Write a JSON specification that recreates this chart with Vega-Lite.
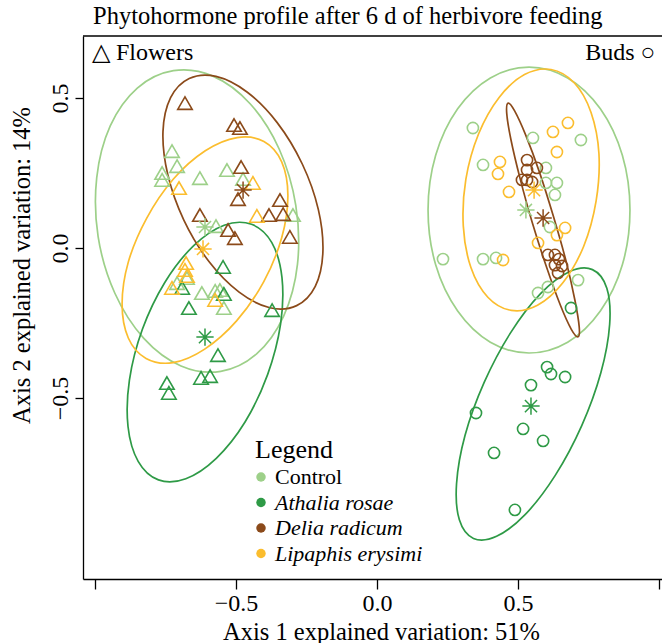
{
"$schema":"https://vega.github.io/schema/vega-lite/v6.json",
"width":579,"height":543,
"autosize":{"type":"none"},
"padding":{"left":83,"top":36,"right":0,"bottom":64},
"background":"white",
"config":{"view":{"stroke":null},"font":"Liberation Serif"},
"title":{"text":"Phytohormone profile after 6 d of herbivore feeding","anchor":"start","frame":"group","dx":10,"offset":6,"fontSize":24.5,"fontWeight":"normal","font":"Liberation Serif","color":"black"},
"datasets":{
"pts":[
{"g":"Control","o":"Flowers","x":-0.727,"y":0.323},{"g":"Control","o":"Flowers","x":-0.709,"y":0.273},{"g":"Control","o":"Flowers","x":-0.762,"y":0.250},{"g":"Control","o":"Flowers","x":-0.762,"y":0.227},{"g":"Control","o":"Flowers","x":-0.628,"y":0.233},{"g":"Control","o":"Flowers","x":-0.532,"y":0.260},{"g":"Control","o":"Flowers","x":-0.475,"y":0.230},{"g":"Control","o":"Flowers","x":-0.298,"y":0.110},{"g":"Control","o":"Flowers","x":-0.571,"y":0.073},{"g":"Control","o":"Flowers","x":-0.674,"y":-0.100},{"g":"Control","o":"Flowers","x":-0.709,"y":-0.117},{"g":"Control","o":"Flowers","x":-0.621,"y":-0.150},{"g":"Control","o":"Flowers","x":-0.574,"y":-0.143},{"g":"Control","o":"Flowers","x":-0.557,"y":-0.140},{"g":"Control","o":"Flowers","x":-0.543,"y":-0.200},
{"g":"Athalia rosae","o":"Flowers","x":-0.546,"y":-0.063},{"g":"Athalia rosae","o":"Flowers","x":-0.691,"y":-0.133},{"g":"Athalia rosae","o":"Flowers","x":-0.667,"y":-0.200},{"g":"Athalia rosae","o":"Flowers","x":-0.543,"y":-0.153},{"g":"Athalia rosae","o":"Flowers","x":-0.372,"y":-0.207},{"g":"Athalia rosae","o":"Flowers","x":-0.564,"y":-0.357},{"g":"Athalia rosae","o":"Flowers","x":-0.624,"y":-0.433},{"g":"Athalia rosae","o":"Flowers","x":-0.592,"y":-0.427},{"g":"Athalia rosae","o":"Flowers","x":-0.745,"y":-0.450},{"g":"Athalia rosae","o":"Flowers","x":-0.738,"y":-0.483},
{"g":"Delia radicum","o":"Flowers","x":-0.681,"y":0.483},{"g":"Delia radicum","o":"Flowers","x":-0.507,"y":0.410},{"g":"Delia radicum","o":"Flowers","x":-0.486,"y":0.400},{"g":"Delia radicum","o":"Flowers","x":-0.482,"y":0.270},{"g":"Delia radicum","o":"Flowers","x":-0.493,"y":0.163},{"g":"Delia radicum","o":"Flowers","x":-0.628,"y":0.110},{"g":"Delia radicum","o":"Flowers","x":-0.344,"y":0.160},{"g":"Delia radicum","o":"Flowers","x":-0.383,"y":0.110},{"g":"Delia radicum","o":"Flowers","x":-0.333,"y":0.113},{"g":"Delia radicum","o":"Flowers","x":-0.528,"y":0.060},{"g":"Delia radicum","o":"Flowers","x":-0.504,"y":0.033},{"g":"Delia radicum","o":"Flowers","x":-0.309,"y":0.037},
{"g":"Lipaphis erysimi","o":"Flowers","x":-0.440,"y":0.217},{"g":"Lipaphis erysimi","o":"Flowers","x":-0.702,"y":0.200},{"g":"Lipaphis erysimi","o":"Flowers","x":-0.426,"y":0.107},{"g":"Lipaphis erysimi","o":"Flowers","x":-0.677,"y":-0.050},{"g":"Lipaphis erysimi","o":"Flowers","x":-0.681,"y":-0.073},{"g":"Lipaphis erysimi","o":"Flowers","x":-0.674,"y":-0.093},{"g":"Lipaphis erysimi","o":"Flowers","x":-0.727,"y":-0.133},{"g":"Lipaphis erysimi","o":"Flowers","x":-0.574,"y":-0.173},
{"g":"Control","o":"Buds","x":0.340,"y":0.400},{"g":"Control","o":"Buds","x":0.553,"y":0.367},{"g":"Control","o":"Buds","x":0.723,"y":0.360},{"g":"Control","o":"Buds","x":0.376,"y":0.277},{"g":"Control","o":"Buds","x":0.599,"y":0.267},{"g":"Control","o":"Buds","x":0.599,"y":0.217},{"g":"Control","o":"Buds","x":0.638,"y":0.217},{"g":"Control","o":"Buds","x":0.631,"y":0.177},{"g":"Control","o":"Buds","x":0.613,"y":0.070},{"g":"Control","o":"Buds","x":0.234,"y":-0.037},{"g":"Control","o":"Buds","x":0.376,"y":-0.037},{"g":"Control","o":"Buds","x":0.422,"y":-0.033},{"g":"Control","o":"Buds","x":0.571,"y":-0.150},{"g":"Control","o":"Buds","x":0.606,"y":-0.130},{"g":"Control","o":"Buds","x":0.713,"y":-0.107},
{"g":"Athalia rosae","o":"Buds","x":0.688,"y":-0.200},{"g":"Athalia rosae","o":"Buds","x":0.603,"y":-0.397},{"g":"Athalia rosae","o":"Buds","x":0.617,"y":-0.420},{"g":"Athalia rosae","o":"Buds","x":0.667,"y":-0.430},{"g":"Athalia rosae","o":"Buds","x":0.546,"y":-0.457},{"g":"Athalia rosae","o":"Buds","x":0.351,"y":-0.550},{"g":"Athalia rosae","o":"Buds","x":0.518,"y":-0.603},{"g":"Athalia rosae","o":"Buds","x":0.589,"y":-0.643},{"g":"Athalia rosae","o":"Buds","x":0.415,"y":-0.683},{"g":"Athalia rosae","o":"Buds","x":0.489,"y":-0.873},
{"g":"Delia radicum","o":"Buds","x":0.532,"y":0.293},{"g":"Delia radicum","o":"Buds","x":0.532,"y":0.260},{"g":"Delia radicum","o":"Buds","x":0.567,"y":0.267},{"g":"Delia radicum","o":"Buds","x":0.514,"y":0.227},{"g":"Delia radicum","o":"Buds","x":0.532,"y":0.227},{"g":"Delia radicum","o":"Buds","x":0.550,"y":0.220},{"g":"Delia radicum","o":"Buds","x":0.606,"y":-0.023},{"g":"Delia radicum","o":"Buds","x":0.631,"y":-0.023},{"g":"Delia radicum","o":"Buds","x":0.645,"y":-0.037},{"g":"Delia radicum","o":"Buds","x":0.631,"y":-0.057},{"g":"Delia radicum","o":"Buds","x":0.656,"y":-0.060},{"g":"Delia radicum","o":"Buds","x":0.642,"y":-0.083},
{"g":"Lipaphis erysimi","o":"Buds","x":0.677,"y":0.417},{"g":"Lipaphis erysimi","o":"Buds","x":0.624,"y":0.387},{"g":"Lipaphis erysimi","o":"Buds","x":0.638,"y":0.320},{"g":"Lipaphis erysimi","o":"Buds","x":0.436,"y":0.287},{"g":"Lipaphis erysimi","o":"Buds","x":0.429,"y":0.247},{"g":"Lipaphis erysimi","o":"Buds","x":0.468,"y":0.187},{"g":"Lipaphis erysimi","o":"Buds","x":0.667,"y":0.067},{"g":"Lipaphis erysimi","o":"Buds","x":0.638,"y":0.043},{"g":"Lipaphis erysimi","o":"Buds","x":0.571,"y":0.017},{"g":"Lipaphis erysimi","o":"Buds","x":0.447,"y":-0.040}
],
"cen":[
{"g":"Control","o":"Flowers","x":-0.610,"y":0.070},{"g":"Athalia rosae","o":"Flowers","x":-0.610,"y":-0.297},{"g":"Delia radicum","o":"Flowers","x":-0.475,"y":0.193},{"g":"Lipaphis erysimi","o":"Flowers","x":-0.617,"y":-0.003},
{"g":"Control","o":"Buds","x":0.528,"y":0.127},{"g":"Athalia rosae","o":"Buds","x":0.546,"y":-0.527},{"g":"Delia radicum","o":"Buds","x":0.589,"y":0.100},{"g":"Lipaphis erysimi","o":"Buds","x":0.557,"y":0.193}
],
"ell":[
{"g":"Control","o":"Flowers","k":0,"x":-0.554,"y":-0.411},{"g":"Control","o":"Flowers","k":1,"x":-0.427,"y":-0.353},{"g":"Control","o":"Flowers","k":2,"x":-0.331,"y":-0.227},{"g":"Control","o":"Flowers","k":3,"x":-0.282,"y":-0.054},{"g":"Control","o":"Flowers","k":4,"x":-0.288,"y":0.142},{"g":"Control","o":"Flowers","k":5,"x":-0.347,"y":0.330},{"g":"Control","o":"Flowers","k":6,"x":-0.450,"y":0.481},{"g":"Control","o":"Flowers","k":7,"x":-0.582,"y":0.573},{"g":"Control","o":"Flowers","k":8,"x":-0.722,"y":0.591},{"g":"Control","o":"Flowers","k":9,"x":-0.850,"y":0.533},{"g":"Control","o":"Flowers","k":10,"x":-0.946,"y":0.407},{"g":"Control","o":"Flowers","k":11,"x":-0.994,"y":0.234},{"g":"Control","o":"Flowers","k":12,"x":-0.989,"y":0.038},{"g":"Control","o":"Flowers","k":13,"x":-0.930,"y":-0.150},{"g":"Control","o":"Flowers","k":14,"x":-0.827,"y":-0.301},{"g":"Control","o":"Flowers","k":15,"x":-0.695,"y":-0.393},
{"g":"Athalia rosae","o":"Flowers","k":0,"x":-0.775,"y":-0.773},{"g":"Athalia rosae","o":"Flowers","k":1,"x":-0.678,"y":-0.769},{"g":"Athalia rosae","o":"Flowers","k":2,"x":-0.570,"y":-0.701},{"g":"Athalia rosae","o":"Flowers","k":3,"x":-0.468,"y":-0.580},{"g":"Athalia rosae","o":"Flowers","k":4,"x":-0.388,"y":-0.422},{"g":"Athalia rosae","o":"Flowers","k":5,"x":-0.342,"y":-0.254},{"g":"Athalia rosae","o":"Flowers","k":6,"x":-0.337,"y":-0.099},{"g":"Athalia rosae","o":"Flowers","k":7,"x":-0.373,"y":0.018},{"g":"Athalia rosae","o":"Flowers","k":8,"x":-0.445,"y":0.079},{"g":"Athalia rosae","o":"Flowers","k":9,"x":-0.542,"y":0.076},{"g":"Athalia rosae","o":"Flowers","k":10,"x":-0.650,"y":0.008},{"g":"Athalia rosae","o":"Flowers","k":11,"x":-0.752,"y":-0.114},{"g":"Athalia rosae","o":"Flowers","k":12,"x":-0.832,"y":-0.271},{"g":"Athalia rosae","o":"Flowers","k":13,"x":-0.878,"y":-0.440},{"g":"Athalia rosae","o":"Flowers","k":14,"x":-0.883,"y":-0.595},{"g":"Athalia rosae","o":"Flowers","k":15,"x":-0.847,"y":-0.711},
{"g":"Delia radicum","o":"Flowers","k":0,"x":-0.285,"y":-0.192},{"g":"Delia radicum","o":"Flowers","k":1,"x":-0.219,"y":-0.128},{"g":"Delia radicum","o":"Flowers","k":2,"x":-0.192,"y":-0.015},{"g":"Delia radicum","o":"Flowers","k":3,"x":-0.208,"y":0.128},{"g":"Delia radicum","o":"Flowers","k":4,"x":-0.265,"y":0.280},{"g":"Delia radicum","o":"Flowers","k":5,"x":-0.354,"y":0.418},{"g":"Delia radicum","o":"Flowers","k":6,"x":-0.461,"y":0.520},{"g":"Delia radicum","o":"Flowers","k":7,"x":-0.571,"y":0.572},{"g":"Delia radicum","o":"Flowers","k":8,"x":-0.666,"y":0.565},{"g":"Delia radicum","o":"Flowers","k":9,"x":-0.732,"y":0.501},{"g":"Delia radicum","o":"Flowers","k":10,"x":-0.759,"y":0.388},{"g":"Delia radicum","o":"Flowers","k":11,"x":-0.742,"y":0.245},{"g":"Delia radicum","o":"Flowers","k":12,"x":-0.685,"y":0.093},{"g":"Delia radicum","o":"Flowers","k":13,"x":-0.596,"y":-0.045},{"g":"Delia radicum","o":"Flowers","k":14,"x":-0.489,"y":-0.147},{"g":"Delia radicum","o":"Flowers","k":15,"x":-0.380,"y":-0.199},
{"g":"Lipaphis erysimi","o":"Flowers","k":0,"x":-0.819,"y":-0.368},{"g":"Lipaphis erysimi","o":"Flowers","k":1,"x":-0.723,"y":-0.382},{"g":"Lipaphis erysimi","o":"Flowers","k":2,"x":-0.611,"y":-0.337},{"g":"Lipaphis erysimi","o":"Flowers","k":3,"x":-0.498,"y":-0.243},{"g":"Lipaphis erysimi","o":"Flowers","k":4,"x":-0.402,"y":-0.113},{"g":"Lipaphis erysimi","o":"Flowers","k":5,"x":-0.338,"y":0.034},{"g":"Lipaphis erysimi","o":"Flowers","k":6,"x":-0.316,"y":0.174},{"g":"Lipaphis erysimi","o":"Flowers","k":7,"x":-0.338,"y":0.287},{"g":"Lipaphis erysimi","o":"Flowers","k":8,"x":-0.401,"y":0.355},{"g":"Lipaphis erysimi","o":"Flowers","k":9,"x":-0.496,"y":0.368},{"g":"Lipaphis erysimi","o":"Flowers","k":10,"x":-0.609,"y":0.324},{"g":"Lipaphis erysimi","o":"Flowers","k":11,"x":-0.722,"y":0.230},{"g":"Lipaphis erysimi","o":"Flowers","k":12,"x":-0.817,"y":0.099},{"g":"Lipaphis erysimi","o":"Flowers","k":13,"x":-0.882,"y":-0.047},{"g":"Lipaphis erysimi","o":"Flowers","k":14,"x":-0.904,"y":-0.187},{"g":"Lipaphis erysimi","o":"Flowers","k":15,"x":-0.882,"y":-0.300},
{"g":"Control","o":"Buds","k":0,"x":0.539,"y":-0.350},{"g":"Control","o":"Buds","k":1,"x":0.676,"y":-0.314},{"g":"Control","o":"Buds","k":2,"x":0.792,"y":-0.210},{"g":"Control","o":"Buds","k":3,"x":0.870,"y":-0.056},{"g":"Control","o":"Buds","k":4,"x":0.897,"y":0.127},{"g":"Control","o":"Buds","k":5,"x":0.870,"y":0.309},{"g":"Control","o":"Buds","k":6,"x":0.792,"y":0.464},{"g":"Control","o":"Buds","k":7,"x":0.676,"y":0.567},{"g":"Control","o":"Buds","k":8,"x":0.539,"y":0.603},{"g":"Control","o":"Buds","k":9,"x":0.402,"y":0.567},{"g":"Control","o":"Buds","k":10,"x":0.286,"y":0.464},{"g":"Control","o":"Buds","k":11,"x":0.208,"y":0.309},{"g":"Control","o":"Buds","k":12,"x":0.181,"y":0.127},{"g":"Control","o":"Buds","k":13,"x":0.208,"y":-0.056},{"g":"Control","o":"Buds","k":14,"x":0.286,"y":-0.210},{"g":"Control","o":"Buds","k":15,"x":0.402,"y":-0.314},
{"g":"Athalia rosae","o":"Buds","k":0,"x":0.342,"y":-0.968},{"g":"Athalia rosae","o":"Buds","k":1,"x":0.424,"y":-0.961},{"g":"Athalia rosae","o":"Buds","k":2,"x":0.526,"y":-0.888},{"g":"Athalia rosae","o":"Buds","k":3,"x":0.632,"y":-0.758},{"g":"Athalia rosae","o":"Buds","k":4,"x":0.726,"y":-0.592},{"g":"Athalia rosae","o":"Buds","k":5,"x":0.794,"y":-0.415},{"g":"Athalia rosae","o":"Buds","k":6,"x":0.825,"y":-0.254},{"g":"Athalia rosae","o":"Buds","k":7,"x":0.815,"y":-0.134},{"g":"Athalia rosae","o":"Buds","k":8,"x":0.764,"y":-0.072},{"g":"Athalia rosae","o":"Buds","k":9,"x":0.682,"y":-0.079},{"g":"Athalia rosae","o":"Buds","k":10,"x":0.580,"y":-0.152},{"g":"Athalia rosae","o":"Buds","k":11,"x":0.474,"y":-0.282},{"g":"Athalia rosae","o":"Buds","k":12,"x":0.380,"y":-0.448},{"g":"Athalia rosae","o":"Buds","k":13,"x":0.312,"y":-0.625},{"g":"Athalia rosae","o":"Buds","k":14,"x":0.282,"y":-0.786},{"g":"Athalia rosae","o":"Buds","k":15,"x":0.292,"y":-0.906},
{"g":"Delia radicum","o":"Buds","k":0,"x":0.713,"y":-0.296},{"g":"Delia radicum","o":"Buds","k":1,"x":0.717,"y":-0.263},{"g":"Delia radicum","o":"Buds","k":2,"x":0.702,"y":-0.175},{"g":"Delia radicum","o":"Buds","k":3,"x":0.671,"y":-0.046},{"g":"Delia radicum","o":"Buds","k":4,"x":0.626,"y":0.104},{"g":"Delia radicum","o":"Buds","k":5,"x":0.576,"y":0.253},{"g":"Delia radicum","o":"Buds","k":6,"x":0.527,"y":0.377},{"g":"Delia radicum","o":"Buds","k":7,"x":0.488,"y":0.457},{"g":"Delia radicum","o":"Buds","k":8,"x":0.465,"y":0.483},{"g":"Delia radicum","o":"Buds","k":9,"x":0.460,"y":0.449},{"g":"Delia radicum","o":"Buds","k":10,"x":0.475,"y":0.361},{"g":"Delia radicum","o":"Buds","k":11,"x":0.507,"y":0.233},{"g":"Delia radicum","o":"Buds","k":12,"x":0.551,"y":0.083},{"g":"Delia radicum","o":"Buds","k":13,"x":0.602,"y":-0.066},{"g":"Delia radicum","o":"Buds","k":14,"x":0.650,"y":-0.190},{"g":"Delia radicum","o":"Buds","k":15,"x":0.689,"y":-0.271},
{"g":"Lipaphis erysimi","o":"Buds","k":0,"x":0.476,"y":-0.208},{"g":"Lipaphis erysimi","o":"Buds","k":1,"x":0.569,"y":-0.191},{"g":"Lipaphis erysimi","o":"Buds","k":2,"x":0.659,"y":-0.116},{"g":"Lipaphis erysimi","o":"Buds","k":3,"x":0.733,"y":0.006},{"g":"Lipaphis erysimi","o":"Buds","k":4,"x":0.777,"y":0.157},{"g":"Lipaphis erysimi","o":"Buds","k":5,"x":0.787,"y":0.314},{"g":"Lipaphis erysimi","o":"Buds","k":6,"x":0.759,"y":0.452},{"g":"Lipaphis erysimi","o":"Buds","k":7,"x":0.700,"y":0.550},{"g":"Lipaphis erysimi","o":"Buds","k":8,"x":0.617,"y":0.595},{"g":"Lipaphis erysimi","o":"Buds","k":9,"x":0.523,"y":0.578},{"g":"Lipaphis erysimi","o":"Buds","k":10,"x":0.433,"y":0.502},{"g":"Lipaphis erysimi","o":"Buds","k":11,"x":0.360,"y":0.380},{"g":"Lipaphis erysimi","o":"Buds","k":12,"x":0.315,"y":0.229},{"g":"Lipaphis erysimi","o":"Buds","k":13,"x":0.306,"y":0.073},{"g":"Lipaphis erysimi","o":"Buds","k":14,"x":0.333,"y":-0.065},{"g":"Lipaphis erysimi","o":"Buds","k":15,"x":0.393,"y":-0.164}
]
},
"layer":[
{"data":{"name":"ell"},"mark":{"type":"line","interpolate":"cardinal-closed","strokeWidth":1.7},
"encoding":{
"x":{"field":"x","type":"quantitative","scale":{"domain":[-1.0426,1.0106],"nice":false,"zero":false},
"axis":{"title":"Axis 1 explained variation: 51%","values":[-1,-0.5,0,0.5,1],"labelExpr":"abs(datum.value) > 0.9 ? '' : format(datum.value, '.1f')","grid":false,"domainColor":"black","domainWidth":1.3,"tickColor":"black","tickWidth":1.3,"tickSize":10,"labelFont":"Liberation Serif","labelFontSize":24,"labelColor":"black","labelPadding":2,"titleFont":"Liberation Serif","titleFontSize":24.5,"titleFontWeight":"normal","titleColor":"black","titleX":298,"titleY":53,"titleAlign":"center","titleBaseline":"middle"}},
"y":{"field":"y","type":"quantitative","scale":{"domain":[-1.1033,0.7067],"nice":false,"zero":false},
"axis":{"title":"Axis 2 explained variation: 14%","values":[-0.5,0,0.5],"format":".1f","grid":false,"domainColor":"black","domainWidth":1.3,"tickColor":"black","tickWidth":1.3,"tickSize":8,"labelFont":"Liberation Serif","labelFontSize":24,"labelColor":"black","labelAngle":270,"labelAlign":"center","labelBaseline":"bottom","labelPadding":3,"titleFont":"Liberation Serif","titleFontSize":24.5,"titleFontWeight":"normal","titleColor":"black","titleAngle":270,"titleX":-61,"titleY":229,"titleAlign":"center","titleBaseline":"middle"}},
"color":{"field":"g","type":"nominal","scale":{"domain":["Control","Athalia rosae","Delia radicum","Lipaphis erysimi"],"range":["#9dd089","#2e9a46","#8b4a1a","#fbbd2e"]},
"legend":{"orient":"none","legendX":172,"legendY":401,"title":"Legend","titleFont":"Liberation Serif","titleFontSize":26,"titleFontWeight":"normal","titleColor":"black","titlePadding":3,"labelFont":"Liberation Serif","labelFontSize":22,"labelColor":"black","labelOffset":3,"symbolOffset":-5,"rowPadding":3.5,"padding":0,"symbolType":"circle","symbolSize":90,"symbolStrokeWidth":0,"symbolOpacity":1,
"encode":{"labels":{"update":{"font":{"value":"Liberation Serif"},"fontSize":{"value":22},"fill":{"value":"black"},"fontStyle":{"signal":"datum.label === 'Control' ? 'normal' : 'italic'"}}},"symbols":{"update":{"fill":{"scale":"color","field":"value"},"fillOpacity":{"value":1},"stroke":{"value":"transparent"},"strokeWidth":{"value":0},"shape":{"value":"circle"},"size":{"value":90},"opacity":{"value":1}}}}}},
"detail":{"field":"o"},"order":{"field":"k","type":"quantitative"}}},
{"data":{"name":"pts"},"mark":{"type":"point","filled":false,"strokeWidth":1.6,"opacity":1},
"encoding":{
"x":{"field":"x","type":"quantitative","scale":{"domain":[-1.0426,1.0106],"nice":false,"zero":false}},
"y":{"field":"y","type":"quantitative","scale":{"domain":[-1.1033,0.7067],"nice":false,"zero":false}},
"color":{"field":"g","type":"nominal","scale":{"domain":["Control","Athalia rosae","Delia radicum","Lipaphis erysimi"],"range":["#9dd089","#2e9a46","#8b4a1a","#fbbd2e"]},
"legend":{"orient":"none","legendX":172,"legendY":401,"title":"Legend","titleFont":"Liberation Serif","titleFontSize":26,"titleFontWeight":"normal","titleColor":"black","titlePadding":3,"labelFont":"Liberation Serif","labelFontSize":22,"labelColor":"black","labelOffset":3,"symbolOffset":-5,"rowPadding":3.5,"padding":0,"symbolType":"circle","symbolSize":90,"symbolStrokeWidth":0,"symbolOpacity":1,
"encode":{"labels":{"update":{"font":{"value":"Liberation Serif"},"fontSize":{"value":22},"fill":{"value":"black"},"fontStyle":{"signal":"datum.label === 'Control' ? 'normal' : 'italic'"}}},"symbols":{"update":{"fill":{"scale":"color","field":"value"},"fillOpacity":{"value":1},"stroke":{"value":"transparent"},"strokeWidth":{"value":0},"shape":{"value":"circle"},"size":{"value":90},"opacity":{"value":1}}}}}},
"shape":{"field":"o","type":"nominal","scale":{"domain":["Flowers","Buds"],"range":["triangle-up","circle"]},"legend":null},
"size":{"field":"o","type":"ordinal","scale":{"domain":["Flowers","Buds"],"range":[210,125]},"legend":null}}},
{"data":{"name":"cen"},"mark":{"type":"point","filled":false,"strokeWidth":1.5,"opacity":1,"size":300,"shape":"M-1,0L1,0M0,-1L0,1M-0.7,-0.7L0.7,0.7M-0.7,0.7L0.7,-0.7"},
"encoding":{
"x":{"field":"x","type":"quantitative","scale":{"domain":[-1.0426,1.0106],"nice":false,"zero":false}},
"y":{"field":"y","type":"quantitative","scale":{"domain":[-1.1033,0.7067],"nice":false,"zero":false}},
"color":{"field":"g","type":"nominal","scale":{"domain":["Control","Athalia rosae","Delia radicum","Lipaphis erysimi"],"range":["#9dd089","#2e9a46","#8b4a1a","#fbbd2e"]},
"legend":{"orient":"none","legendX":172,"legendY":401,"title":"Legend","titleFont":"Liberation Serif","titleFontSize":26,"titleFontWeight":"normal","titleColor":"black","titlePadding":3,"labelFont":"Liberation Serif","labelFontSize":22,"labelColor":"black","labelOffset":3,"symbolOffset":-5,"rowPadding":3.5,"padding":0,"symbolType":"circle","symbolSize":90,"symbolStrokeWidth":0,"symbolOpacity":1,
"encode":{"labels":{"update":{"font":{"value":"Liberation Serif"},"fontSize":{"value":22},"fill":{"value":"black"},"fontStyle":{"signal":"datum.label === 'Control' ? 'normal' : 'italic'"}}},"symbols":{"update":{"fill":{"scale":"color","field":"value"},"fillOpacity":{"value":1},"stroke":{"value":"transparent"},"strokeWidth":{"value":0},"shape":{"value":"circle"},"size":{"value":90},"opacity":{"value":1}}}}}}}},
{"data":{"values":[{"edge":"top"}]},"mark":{"type":"rule","color":"black","strokeWidth":1.3},
"encoding":{"x":{"datum":-1.0426,"type":"quantitative"},"x2":{"datum":1.0106},"y":{"datum":0.7067,"type":"quantitative"}}},
{"data":{"values":[{"label":"△ Flowers"}]},"mark":{"type":"text","align":"left","baseline":"middle","fontSize":24,"font":"Liberation Serif","color":"black"},
"encoding":{"x":{"datum":-1.011,"type":"quantitative"},"y":{"datum":0.65,"type":"quantitative"},"text":{"field":"label"}}},
{"data":{"values":[{"label":"Buds ○"}]},"mark":{"type":"text","align":"right","baseline":"middle","fontSize":24,"font":"Liberation Serif","color":"black"},
"encoding":{"x":{"datum":0.986,"type":"quantitative"},"y":{"datum":0.65,"type":"quantitative"},"text":{"field":"label"}}}
]
}
